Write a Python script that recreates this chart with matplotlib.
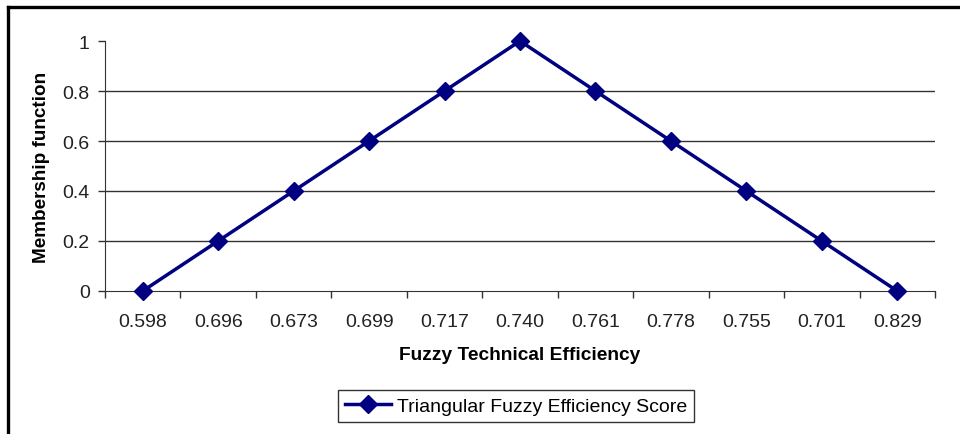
import matplotlib
matplotlib.use("Agg")
import matplotlib.pyplot as plt
from matplotlib.lines import Line2D
from matplotlib.ticker import FixedLocator, FixedFormatter

plt.rcParams['font.family'] = ['Liberation Sans', 'DejaVu Sans']

categories = ["0.598", "0.696", "0.673", "0.699", "0.717", "0.740",
              "0.761", "0.778", "0.755", "0.701", "0.829"]
membership = [0, 0.2, 0.4, 0.6, 0.8, 1.0, 0.8, 0.6, 0.4, 0.2, 0]
yticks = [0, 0.2, 0.4, 0.6, 0.8, 1]
ytick_labels = ["0", "0.2", "0.4", "0.6", "0.8", "1"]

fig = plt.figure(figsize=(9.6, 4.35), dpi=100)
ax = fig.add_axes([105/960, 1-292/435, 830/960, 250/435])

x = list(range(len(categories)))
ax.plot(x, membership, color="#000080", lw=2.5, marker="D", markersize=9,
        clip_on=False, zorder=3, label="Triangular Fuzzy Efficiency Score")

ax.set_xlim(-0.5, len(categories) - 0.5)
ax.set_ylim(0, 1)

# x ticks at category boundaries, labels at centers
ax.xaxis.set_major_locator(FixedLocator([i - 0.5 for i in range(len(categories) + 1)]))
ax.xaxis.set_major_formatter(FixedFormatter([""] * (len(categories) + 1)))
ax.xaxis.set_minor_locator(FixedLocator(x))
ax.xaxis.set_minor_formatter(FixedFormatter(categories))
ax.tick_params(axis="x", which="major", direction="out", length=5, width=1, color="#333333")
ax.tick_params(axis="x", which="minor", length=0, labelsize=14, pad=16, labelcolor="#222222")

ax.set_yticks(yticks)
ax.set_yticklabels(ytick_labels)
ax.tick_params(axis="y", direction="out", length=5, width=1, color="#333333",
               labelsize=14, pad=6, labelcolor="#222222")

for v in [0.2, 0.4, 0.6, 0.8]:
    ax.axhline(v, color="#333333", lw=1, zorder=1)

for s in ["top", "right"]:
    ax.spines[s].set_visible(False)
ax.spines["left"].set_color("#333333")
ax.spines["bottom"].set_color("#333333")

ax.set_xlabel("Fuzzy Technical Efficiency", fontsize=13.8, fontweight="bold", labelpad=11)
ax.set_ylabel("Membership function", fontsize=13.6, fontweight="bold", labelpad=9)

leg = fig.legend(loc="center", bbox_to_anchor=(516/960, 1-407/435), fontsize=14,
                 frameon=True, fancybox=False, edgecolor="black", handlelength=2.4,
                 borderpad=0.35, handletextpad=0.3)
leg.get_frame().set_linewidth(1)

# figure border (top and left)
fig.add_artist(Line2D([8/960, 1], [1-8/435, 1-8/435], color="black", lw=2.4,
                      transform=fig.transFigure))
fig.add_artist(Line2D([8/960, 8/960], [0, 1-8/435], color="black", lw=2.4,
                      transform=fig.transFigure))

fig.savefig("out.png", dpi=100)
